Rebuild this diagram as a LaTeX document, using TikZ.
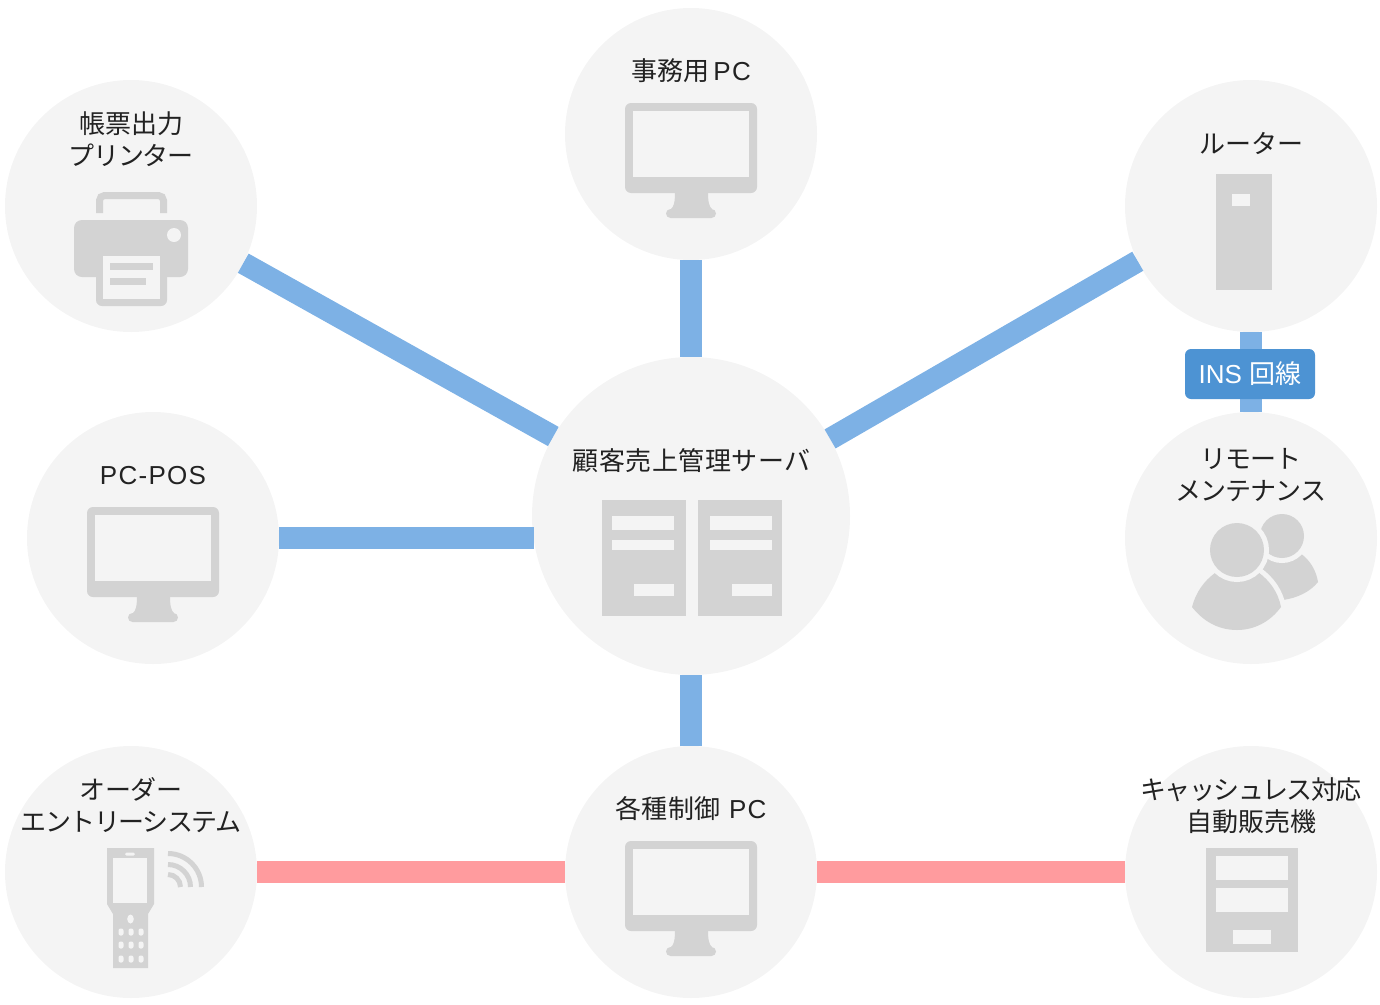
\documentclass[tikz,border=0pt]{standalone}
\usepackage{fontspec}
\setmainfont{Noto Sans CJK JP}
\newfontfamily\latinwide[LetterSpace=5]{Liberation Sans}
\newfontfamily\latinplain{Liberation Sans}
\newcommand{\spaced}[2]{{\addfontfeature{LetterSpace=#1}#2}}
\definecolor{disc}{HTML}{F4F4F4}
\definecolor{icongray}{HTML}{D3D3D3}
\definecolor{linkblue}{HTML}{7DB1E5}
\definecolor{linkred}{HTML}{FF9B9E}
\definecolor{badgeblue}{HTML}{4D93D3}
\definecolor{inktext}{HTML}{222222}
\tikzset{
	device/.style = {circle, fill=disc, inner sep=0pt, outer sep=0pt, minimum size=252pt},
	hub/.style = {device, minimum size=318pt},
	caption/.style = {align=center, inner sep=0pt, text=inktext, font=\fontsize{26}{32}\selectfont},
	bluelink/.style = {draw=linkblue, line width=22pt},
	redlink/.style = {draw=linkred, line width=22pt},
	badge/.style = {rectangle, rounded corners=6pt, fill=badgeblue, text=white, inner sep=0pt,
		minimum width=130pt, minimum height=50pt, font=\fontsize{26}{32}\selectfont},
	icon/.style = {fill=icongray},
	hole/.style = {fill=disc},
	ring/.style = {preaction={draw=disc, line width=10pt}, fill=icongray},
	wave/.style = {draw=icongray, line width=5pt},
	monitoricon/.pic = {
		\fill[icon, rounded corners=6pt] (0,0) rectangle (132,90);
		\fill[hole] (8,8) rectangle (124,74);
		\fill[icon] (50,89) -- (83,89) .. controls (83,98) and (84,104) .. (87,106) -- (46,106) .. controls (49,104) and (50,98) .. (50,89) -- cycle;
		\fill[icon, rounded corners=4.5pt] (41,106) rectangle (91,115);
	}
}
\begin{document}
\begin{tikzpicture}[x=1pt,y=-1pt]
	\useasboundingbox (0,0) rectangle (1380,1004);
	% discs
	\node [device] (printer) at (131,206) {};
	\node [device] (officepc) at (691,134) {};
	\node [device] (router) at (1251,206) {};
	\node [hub] (server) at (691,516) {};
	\node [device] (pos) at (153,538) {};
	\node [device] (remote) at (1251,538) {};
	\node [device] (order) at (131,872) {};
	\node [device] (control) at (691,872) {};
	\node [device] (vending) at (1251,872) {};
	% links
	\draw [bluelink] (printer.-27.26) -- (server.150.42);
	\draw [bluelink] (officepc) -- (server);
	\draw [bluelink] (router.206.83) -- (server.29.15);
	\draw [bluelink] (pos.east) -- (pos.east -| server.188);
	\draw [bluelink] (control) -- (server);
	\draw [bluelink] (router) -- (remote);
	\draw [redlink] (order) -- (control);
	\draw [redlink] (control) -- (vending);
	\node [badge] (insline) at (1250,374) {\raisebox{-2pt}{\latinplain INS \normalfont 回線}};
	% captions
	\node [caption] (printerlabel) at (131,139) {帳票出力\\\spaced{-4.6}{プリンター}};
	\node [caption] (officelabel) at (691,71) {事務用\,{\latinwide PC}};
	\node [caption] (routerlabel) at (1251,143) {ルーター};
	\node [caption] (serverlabel) at (691.5,461) {\spaced{2}{顧客売上管理サーバ}};
	\node [caption] (poslabel) at (153,475.5) {\latinwide PC-POS};
	\node [caption] (remotelabel) at (1251,475.5) {\spaced{-4.8}{リモート}\\\spaced{-3.5}{メンテナンス}};
	\node [caption] (orderlabel) at (131,805) {\spaced{-2}{オーダー}\\\spaced{-6}{エントリーシステム}};
	\node [caption] (controllabel) at (691,809) {\spaced{1}{各種制御}\,\,{\latinwide PC}};
	\node [caption] (vendinglabel) at (1251,805.5) {\spaced{-5.8}{キャッシュレス対応}\\自動販売機};
	% monitors
	\pic at (625,103) {monitoricon};
	\pic at (87,507) {monitoricon};
	\pic at (625,841) {monitoricon};
	% printer
	\draw [icongray, line width=7pt, rounded corners=5pt] (99.5,213) -- (99.5,195.5) -- (163.5,195.5) -- (163.5,213);
	\fill [icon, rounded corners=8pt] (74,220) rectangle (188,277);
	\fill [hole] (174,235) circle (7);
	\fill [icon, rounded corners=6pt] (96,260) rectangle (167,306);
	\fill [hole] (103,256) rectangle (160,299);
	\fill [icon] (110,263) rectangle (153,270);
	\fill [icon] (110,278) rectangle (146,285);
	% router
	\fill [icon] (1216,174) rectangle (1272,290);
	\fill [hole] (1232,194) rectangle (1250,206);
	% server
	\foreach \sx/\tx in {602/612,698/710} {
		\fill [icon] (\sx,500) rectangle +(84,116);
		\fill [hole] (\tx,516) rectangle +(62,14);
		\fill [hole] (\tx,540) rectangle +(62,10);
		\fill [hole] (\tx+22,584) rectangle +(40,12);
	}
	% people
	\fill [icon] (1265,553) -- (1300,553) .. controls (1310,560) and (1316,570) .. (1318,582) .. controls (1310,592) and (1297,598) .. (1283,600) -- (1255,600) -- cycle;
	\fill [ring] (1282,536) circle (22);
	\fill [ring] (1192,607) .. controls (1196,592) and (1204,581) .. (1215,573) .. controls (1228,582) and (1246,582) .. (1258,572) .. controls (1270,581) and (1278,592) .. (1281,607) .. controls (1270,622) and (1254,630) .. (1237,630) .. controls (1218,630) and (1203,621) .. (1192,607) -- cycle;
	\fill [ring] (1237,550) circle (27);
	% handset
	\fill [icon] (107,848) -- (154,848) -- (154,904) -- (148,914) -- (148,968) -- (113,968) -- (113,914) -- (107,904) -- cycle;
	\fill [hole] (113,858) rectangle (147,903);
	\fill [hole, rounded corners=1.5pt] (125,852.5) rectangle (135,855.5);
	\fill [hole] (130.5,919) ellipse (3.3 and 4.5);
	\foreach \kx in {121,131,141}
		\foreach \ky in {932,945,959}
			\fill [hole, rounded corners=2pt] (\kx-2.5,\ky-3.5) rectangle +(5,7);
	\draw [wave] (168,853.5) arc [start angle=90, end angle=0, radius=33.5pt];
	\draw [wave] (168,864.5) arc [start angle=90, end angle=0, radius=22.5pt];
	\draw [wave] (168,874.5) arc [start angle=90, end angle=0, radius=12.5pt];
	% vending machine
	\fill [icon] (1206,848) rectangle (1298,952);
	\fill [hole] (1216,856) rectangle (1288,880);
	\fill [hole] (1216,888) rectangle (1288,912);
	\fill [hole] (1233,930) rectangle (1271,944);
\end{tikzpicture}
\end{document}
